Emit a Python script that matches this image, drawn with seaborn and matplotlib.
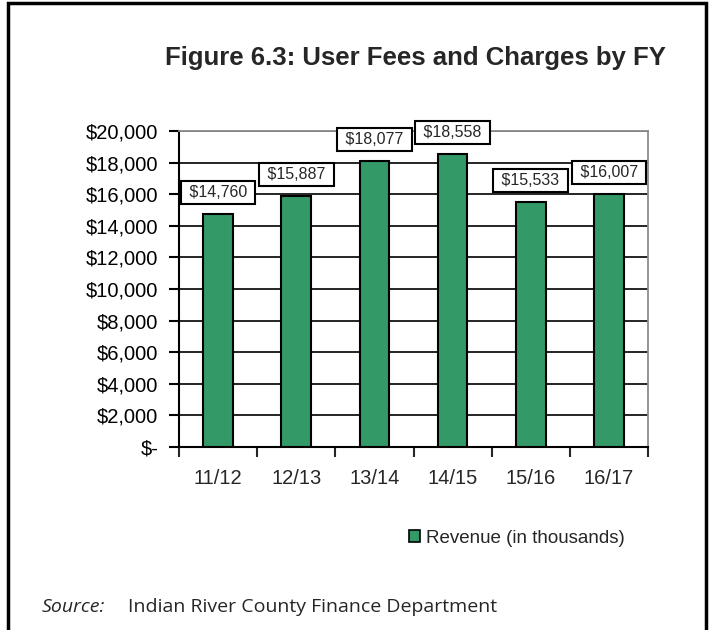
import matplotlib
matplotlib.use('Agg')
import matplotlib.pyplot as plt
import seaborn as sns
import pandas as pd
from matplotlib.patches import Rectangle, Patch
from matplotlib.ticker import FuncFormatter

# data (revenue in thousands of dollars)
fiscal_years = ['11/12', '12/13', '13/14', '14/15', '15/16', '16/17']
revenue = [14760, 15887, 18077, 18558, 15533, 16007]
y_ticks = list(range(0, 20001, 2000))

bar_color = '#339966'

sns.set_style('white')
plt.rcParams['font.family'] = ['Liberation Sans', 'DejaVu Sans']

fig = plt.figure(figsize=(7.11, 6.30), dpi=100)
ax = fig.add_axes([0.2518, 0.2905, 0.6596, 0.5015])

df = pd.DataFrame({'fy': fiscal_years, 'revenue': revenue})
sns.barplot(data=df, x='fy', y='revenue', color=bar_color, saturation=1,
            edgecolor='black', linewidth=1.5, width=0.38, ax=ax, zorder=3)

ax.set_xlim(-0.5, len(fiscal_years) - 0.5)
ax.set_ylim(0, 20000)
ax.set_yticks(y_ticks)
ax.yaxis.set_major_formatter(FuncFormatter(lambda v, p: '$-' if v == 0 else f'${v:,.0f}'))
ax.set_xlabel('')
ax.set_ylabel('')

# gridlines and plot area border
ax.grid(axis='y', color='black', lw=1.2)
ax.grid(axis='x', visible=False)
ax.set_axisbelow(True)
for side in ['left', 'bottom']:
    ax.spines[side].set_color('black')
    ax.spines[side].set_linewidth(1.5)
for side in ['top', 'right']:
    ax.spines[side].set_visible(True)
    ax.spines[side].set_color('#8c8c8c')
    ax.spines[side].set_linewidth(1.3)

# ticks: y outside, x at category boundaries
ax.tick_params(axis='y', direction='out', length=7, width=1.5, pad=8,
               labelsize=14.5, left=True, colors='black')
ax.set_xticks([i - 0.5 for i in range(len(fiscal_years) + 1)], minor=True)
ax.tick_params(axis='x', which='major', length=0, pad=16, labelsize=14.5)
ax.tick_params(axis='x', which='minor', direction='out', length=7, width=1.5, bottom=True)

# boxed value labels
for i, v in enumerate(revenue):
    ax.annotate(f' ${v:,} ', xy=(i, v), xytext=(0, 14), textcoords='offset pixels',
                ha='center', va='bottom', fontsize=11.5, zorder=5,
                bbox=dict(boxstyle='square,pad=0.25', fc='white', ec='black', lw=1.5))

fig.text(0.584, 0.908, 'Figure 6.3: User Fees and Charges by FY', ha='center', va='center',
         fontsize=18.5, fontweight='bold')

handle = Patch(facecolor=bar_color, edgecolor='black', lw=1.2)
fig.legend([handle], ['Revenue (in thousands)'], loc='center', bbox_to_anchor=(0.727, 0.146),
           frameon=False, fontsize=13.5, handlelength=0.6, handleheight=0.6, handletextpad=0.3)

fig.text(0.059, 0.0286, 'Source:', style='italic', family='Open Sans', fontsize=14, va='baseline')
fig.text(0.18, 0.0286, 'Indian River County Finance Department', family='Open Sans',
         fontsize=14, va='baseline')

# outer frame (bottom edge runs off the page)
fig.add_artist(Rectangle((8 / 711, -0.05), 698 / 711, 1.045, transform=fig.transFigure,
                         fill=False, ec='black', lw=2.5))

fig.savefig('out.png', dpi=100)
